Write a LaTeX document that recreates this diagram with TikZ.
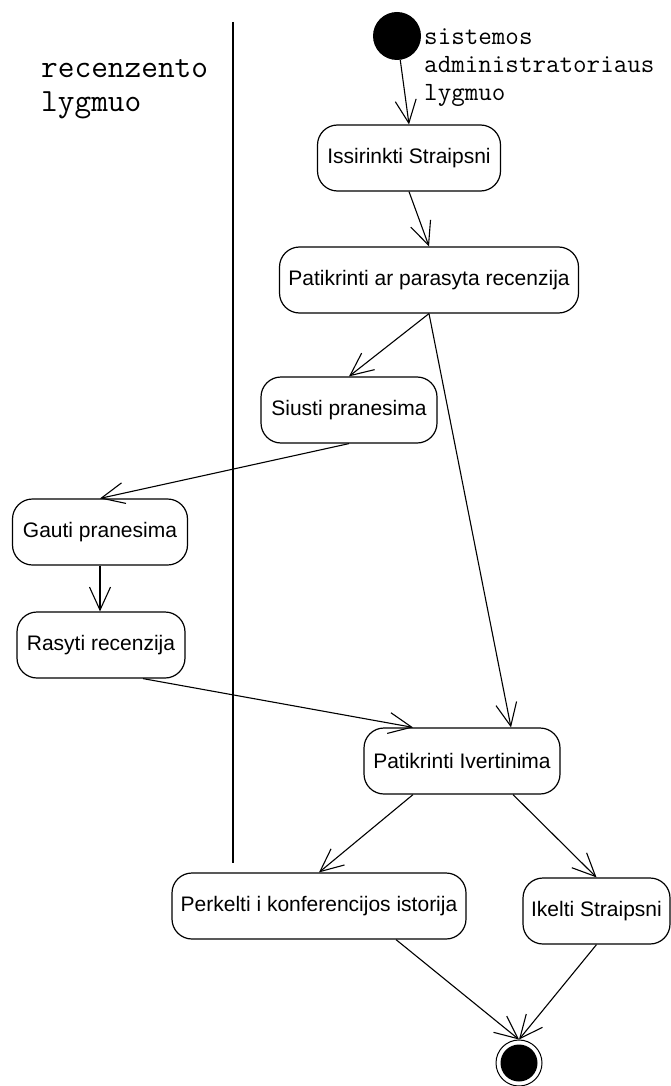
\documentclass[tikz,border=0pt]{standalone}
\usepackage{fontspec}
\setmainfont{Liberation Sans}
\usetikzlibrary{arrows.meta}
\begin{document}
\begin{tikzpicture}[x=1pt,y=-1pt,
  action/.style={draw, line width=1.2pt, rounded corners=20pt, inner sep=0pt,
    minimum height=66pt, font=\fontsize{21}{25}\selectfont},
  flow/.style={draw, line width=1.1pt, -{Straight Barb[length=23pt,width=21pt]}},
  lanelabel/.style={anchor=base west, inner sep=0pt, align=left}]
\useasboundingbox (0,0) rectangle (671,1086);

% swimlane separator
\draw[line width=1.1pt] (233,22) -- (233,863);

% lane names (anchored on the baseline of the last line)
\node[lanelabel, font=\ttfamily\fontsize{32.4}{34}\selectfont] (laneL) at (41,112)
  {recenzento\\lygmuo};
\node[lanelabel, font=\ttfamily\fontsize{26.3}{28}\selectfont] (laneR) at (424,101)
  {sistemos\\administratoriaus\\lygmuo};

% initial and final states
\node[circle, fill=black, minimum size=48pt, inner sep=0pt] (start) at (397,36) {};
\node[circle, draw, line width=1pt, minimum size=46pt, inner sep=0pt] (end) at (519,1063) {};
\node[circle, fill=black, minimum size=37pt, inner sep=0pt] (endcore) at (end) {};

% actions
\node[action, minimum width=183pt] (iss) at (409,158) {Issirinkti Straipsni};
\node[action, minimum width=299pt] (pat) at (429,280) {Patikrinti ar parasyta recenzija};
\node[action, minimum width=176pt] (siu) at (349,410) {Siusti pranesima};
\node[action, minimum width=175pt] (gau) at (100,532) {Gauti pranesima};
\node[action, minimum width=168pt] (ras) at (101,645) {Rasyti recenzija};
\node[action, minimum width=196pt] (piv) at (462,761) {Patikrinti Ivertinima};
\node[action, minimum width=294pt] (per) at (319,906) {Perkelti i konferencijos istorija};
\node[action, minimum width=147pt] (ike) at (596.5,911) {Ikelti Straipsni};

% transitions
\draw[flow] (start) -- (iss.north);
\draw[flow] (iss.south) -- (pat.north);
\draw[flow] (pat.south) -- (siu.north);
\draw[flow] (pat.south) -- ([xshift=49pt]piv.north);
\draw[flow] (siu.south) -- (gau.north);
\draw[flow] (gau.south) -- (gau.south |- ras.north);
\draw[flow] ([xshift=42pt]ras.south) -- ([xshift=-49pt]piv.north);
\draw[flow] ([xshift=-49pt]piv.south) -- (per.north);
\draw[flow] ([xshift=51pt]piv.south) -- (ike.north);
\draw[flow] ([xshift=77pt]per.south) -- (end.north);
\draw[flow] (ike.south) -- (end.north);
\end{tikzpicture}
\end{document}
